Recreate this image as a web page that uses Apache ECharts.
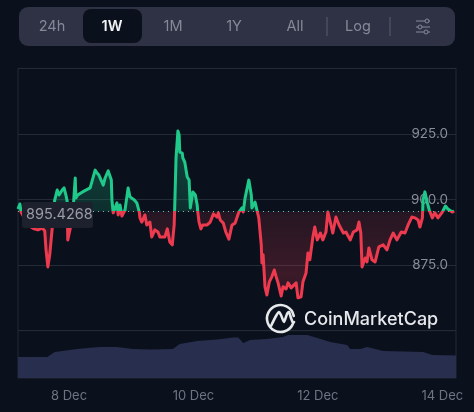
<!DOCTYPE html>
<html><head><meta charset="utf-8">
<style>html,body{margin:0;padding:0;background:#0a111d}#c{width:474px;height:412px}</style>
<script src="https://cdn.jsdelivr.net/npm/echarts@6/dist/echarts.min.js"></script>
</head><body><div id="c"></div>
<script>
const BASE = 895.4268;
const TABS = ['24h','1W','1M','1Y','All','Log'];
const DATE_TICKS = [8,10,12,14];
const PRICE_TICKS = [875,900,925];
// day of December
const priceDays = [7.18,7.21,7.23,7.34,7.44,7.50,7.57,7.61,7.63,7.66,7.69,7.73,7.76,7.77,7.81,7.84,7.89,7.92,7.95,7.97,7.98,8.02,8.06,8.10,8.11,8.14,8.19,8.24,8.27,8.34,8.37,8.42,8.45,8.48,8.55,8.58,8.63,8.66,8.68,8.69,8.71,8.74,8.77,8.79,8.82,8.85,8.87,8.90,8.93,8.95,8.98,9.05,9.09,9.13,9.14,9.17,9.22,9.25,9.30,9.33,9.38,9.43,9.46,9.54,9.58,9.62,9.66,9.67,9.69,9.70,9.72,9.75,9.77,9.78,9.82,9.83,9.86,9.90,9.93,9.95,9.99,10.03,10.06,10.07,10.09,10.12,10.15,10.22,10.27,10.32,10.38,10.40,10.43,10.48,10.52,10.57,10.62,10.67,10.70,10.73,10.78,10.80,10.83,10.86,10.89,10.93,10.94,10.99,11.02,11.05,11.09,11.10,11.12,11.15,11.18,11.22,11.26,11.30,11.33,11.36,11.41,11.44,11.49,11.52,11.57,11.60,11.65,11.68,11.73,11.76,11.81,11.84,11.87,11.92,11.95,11.99,12.04,12.08,12.13,12.16,12.21,12.24,12.29,12.34,12.41,12.45,12.52,12.57,12.63,12.66,12.69,12.71,12.76,12.79,12.82,12.87,12.92,12.98,13.05,13.11,13.16,13.21,13.27,13.34,13.40,13.45,13.51,13.56,13.61,13.64,13.68,13.69,13.72,13.76,13.79,13.84,13.88,13.93,14.00,14.05,14.09,14.16,14.19];
const prices = [896.4,898.3,895.2,890.3,888.8,888.4,889.1,888.0,881.0,874.3,878.9,889.1,897.9,899.8,903.6,901.7,903.6,904.4,901.7,899.4,884.6,889.1,894.1,908.2,900.6,901.7,902.5,903.2,902.5,904.4,905.1,911.2,910.1,909.3,905.5,908.2,910.9,910.5,907.4,899.8,894.9,894.5,898.7,894.1,897.9,893.7,893.3,896.0,901.0,904.4,901.0,899.8,898.7,895.2,893.0,891.4,894.1,890.3,891.4,885.7,888.4,887.6,885.7,885.7,888.8,883.8,882.7,885.3,890.3,897.9,915.8,926.1,924.6,918.1,917.7,915.8,914.3,908.6,907.4,896.8,902.9,901.7,897.9,895.2,891.4,888.8,890.3,890.3,891.4,894.5,893.3,894.9,892.2,891.0,887.6,884.9,890.3,891.0,890.3,895.2,896.8,895.2,900.6,901.0,907.4,901.7,896.8,899.0,896.0,893.0,882.7,875.8,878.9,866.7,863.6,868.6,870.5,873.1,870.5,868.2,863.2,866.7,865.9,868.2,866.3,866.7,868.2,862.5,862.9,868.6,872.0,879.6,877.0,885.7,889.5,884.6,887.2,884.6,887.6,895.2,890.3,887.2,893.3,890.3,887.2,887.6,884.6,887.6,888.4,891.4,887.2,874.3,877.7,876.2,881.5,877.0,876.2,881.9,882.7,880.8,884.6,887.2,884.6,887.6,887.2,890.3,893.3,893.0,892.2,889.5,893.0,899.8,902.9,898.7,896.0,893.0,894.9,893.0,895.2,897.5,896.4,895.2,895.6];
const volumeDays = [7.18,7.65,7.77,8.13,8.29,8.50,8.77,9.03,9.30,9.67,9.78,10.06,10.38,10.64,10.72,10.80,10.91,11.18,11.44,11.52,11.83,11.99,12.20,12.47,12.52,12.68,12.79,13.05,13.69,13.84,14.22];
const volumes = [21,21,26,29,30,31,31,29,28.5,29,34,37,38.5,40.5,40.5,35,38,39,41,43,43,40,36,33,29,29,31,27,26,23,22.5];

const RED='#ee3a4e', GREEN='#1fc98a', GRID='#232b37', AXIS='#6f7482';
const FONT='Inter, "Noto Sans", sans-serif';
const tabX=[52,112,173,234,295,358];
const graphic=[
 {type:'rect',z:1,shape:{x:19,y:7,width:436,height:39,r:9},style:{fill:'#2f3244'}},
 {type:'rect',z:2,shape:{x:83,y:9,width:59,height:34,r:8},style:{fill:'#0a111d'}},
 ...TABS.map((t,i)=>({type:'text',z:3,style:{text:t,x:tabX[i],y:27,align:'center',verticalAlign:'middle',fill:i==1?'#f2f3f5':'#858997',font:(i==1?'600 ':'400 ')+'14.5px '+FONT}})),
 ...[327,390].map(x=>({type:'line',z:3,shape:{x1:x,y1:17,x2:x,y2:36},style:{stroke:'#5a5d6c',lineWidth:1}})),
 ...[[21,427],[27,420],[32,426]].map(([y,cx])=>({type:'group',z:3,children:[
   {type:'line',z:3,shape:{x1:416,y1:y,x2:430,y2:y},style:{stroke:'#858997',lineWidth:1}},
   {type:'circle',z:3,shape:{cx:cx,cy:y,r:2},style:{fill:'#2f3244',stroke:'#858997',lineWidth:1}}]})),
 {type:'rect',z:20,shape:{x:22,y:202,width:71,height:26,r:3},style:{fill:'#1d212d'}},
 {type:'text',z:21,style:{text:BASE.toFixed(4),x:26,y:215,verticalAlign:'middle',fill:'#9a9ca6',font:'400 14.5px '+FONT}},
 {type:'arc',z:22,shape:{cx:280.5,cy:318.5,r:13.5,startAngle:0.45,endAngle:6.1,clockwise:true},style:{fill:null,stroke:'#e6e8ec',lineWidth:2.6,lineCap:'round'}},
 {type:'polyline',z:22,shape:{points:[[271,326],[276,316],[279,312],[281,315],[284,322],[287,314],[289,312],[291,318],[293,323],[294,322]],smooth:0.25},style:{fill:null,stroke:'#e6e8ec',lineWidth:2.6,lineCap:'round',lineJoin:'round'}},
 {type:'text',z:22,style:{text:'CoinMarketCap',x:304,y:320,verticalAlign:'middle',fill:'#e6e8ec',font:'500 18px '+FONT}}
];

const chart=echarts.init(document.getElementById('c'),null,{renderer:'canvas'});
chart.setOption({
 animation:false,
 backgroundColor:'#0a111d',
 graphic:graphic,
 grid:[
  {left:18,right:18,top:68.4,height:262.2,show:true,borderColor:GRID,borderWidth:1,backgroundColor:'transparent'},
  {left:18,right:18,top:330.6,height:47.4,show:true,borderColor:GRID,borderWidth:1,backgroundColor:'transparent'}
 ],
 xAxis:[
  {type:'value',gridIndex:0,min:7.18,max:14.22,axisLine:{show:false},axisTick:{show:false},axisLabel:{show:false},splitLine:{show:false}},
  {type:'value',gridIndex:1,min:7.18,max:14.22,axisLine:{show:false},axisTick:{show:false},splitLine:{show:false},
   axisLabel:{customValues:DATE_TICKS,formatter:v=>v+' Dec',color:AXIS,fontFamily:FONT,fontSize:13,margin:12}}
 ],
 yAxis:[
  {type:'value',gridIndex:0,position:'right',min:850,max:950,interval:25,axisLine:{show:false},axisTick:{show:false},
   splitLine:{lineStyle:{color:GRID,width:1}},
   axisLabel:{inside:true,margin:8,customValues:PRICE_TICKS,formatter:v=>v.toFixed(1),color:'#8a8e9a',fontFamily:FONT,fontSize:13.5}},
  {type:'value',gridIndex:1,min:0,max:47.4,show:false,splitLine:{show:false}}
 ],
 visualMap:{show:false,type:'piecewise',seriesIndex:0,dimension:1,pieces:[{gte:840,lt:BASE,color:RED},{gte:BASE,lte:960,color:GREEN}]},
 series:[
  {type:'line',xAxisIndex:0,yAxisIndex:0,z:5,showSymbol:false,symbol:'none',data:priceDays.map((d,i)=>[d,prices[i]]),
   lineStyle:{width:3,join:'round'},
   areaStyle:{origin:BASE,opacity:1,color:{type:'linear',global:true,x:0,y:131,x2:0,y2:300,colorStops:[
     {offset:0,color:'rgba(31,201,138,0.30)'},{offset:0.479,color:'rgba(31,201,138,0.16)'},
     {offset:0.479,color:'rgba(238,58,78,0.12)'},{offset:0.85,color:'rgba(238,58,78,0.22)'},{offset:1,color:'rgba(238,58,78,0.12)'}]}},
   markLine:{silent:true,symbol:'none',label:{show:false},lineStyle:{color:'#a5a8ae',type:[1,4],width:1},data:[{yAxis:BASE}]}
  },
  {type:'line',xAxisIndex:1,yAxisIndex:1,z:2,showSymbol:false,symbol:'none',data:volumeDays.map((d,i)=>[d,volumes[i]]),
   lineStyle:{width:0},areaStyle:{color:'#282e4d',opacity:1}}
 ]
});
</script></body></html>
